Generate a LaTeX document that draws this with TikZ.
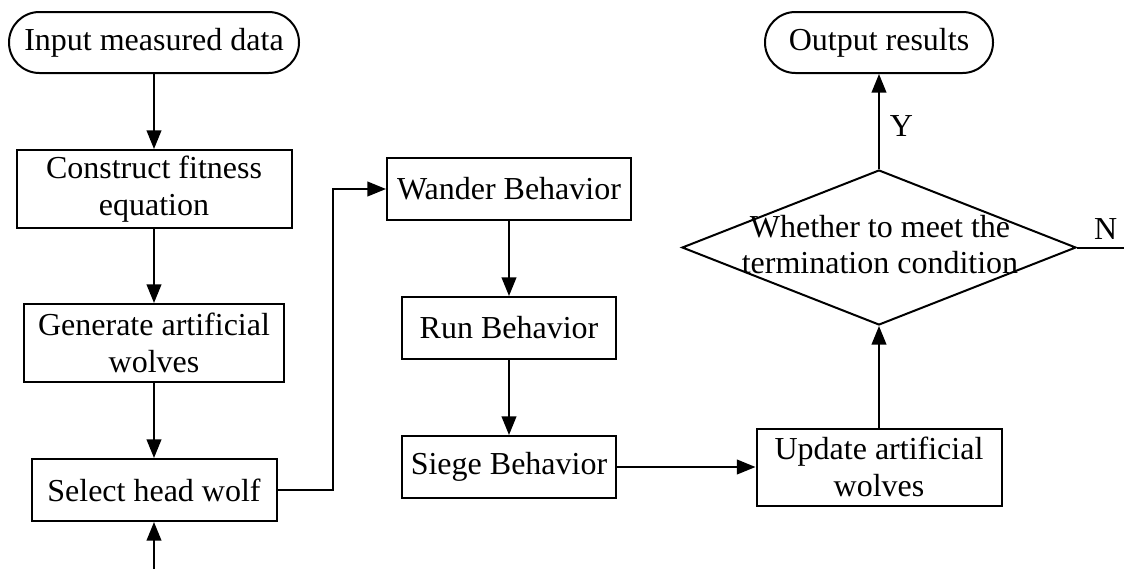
\documentclass[tikz,border=0pt]{standalone}
\usepackage{fontspec}
\setmainfont{Liberation Serif}
\usetikzlibrary{shapes.geometric,arrows.meta}
\begin{document}
\begin{tikzpicture}[x=0.75pt,y=-0.75pt,
  every node/.style={font=\fontsize{24}{28}\selectfont, text=black},
  box/.style={draw=black, line width=1.5pt, fill=white, align=center, inner sep=0pt},
  term/.style={box, rounded corners=22.8pt},
  conn/.style={line width=1.5pt, draw=black},
  arr/.style={conn, -{Triangle[length=14pt,width=11pt]}}
]
\useasboundingbox (0,0) rectangle (1124,568);
\fill[white] (0,0) rectangle (1124,568);

\node[term, minimum width=217.5pt, minimum height=45.75pt] (in) at (154,42.5) {Input measured data};
\node[box, minimum width=206.25pt, minimum height=58.5pt] (con) at (154,189) {Construct fitness\\equation};
\node[box, minimum width=195pt, minimum height=58.5pt] (gen) at (154,343) {Generate artificial\\wolves};
\node[box, minimum width=183.75pt, minimum height=46.5pt] (sel) at (154,490) {Select head wolf};

\node[box, minimum width=183pt, minimum height=46.5pt] (wan) at (509,189) {Wander Behavior};
\node[box, minimum width=160.5pt, minimum height=46.5pt] (run) at (509,328) {Run Behavior};
\node[box, minimum width=160.5pt, minimum height=46.5pt] (sie) at (509,467) {Siege Behavior};

\node[box, minimum width=183.75pt, minimum height=57.75pt] (upd) at (879,467) {Update artificial\\wolves};

\node[diamond, draw=black, line width=1.5pt, fill=white, minimum width=295.5pt, minimum height=116.25pt, inner sep=0pt] (dec) at (879,247.5) {};
\node[align=center, font=\fontsize{24}{27}\selectfont] (dectext) at (880,245) {Whether to meet the\\termination condition};

\node[term, minimum width=171pt, minimum height=45.75pt] (out) at (879,42.5) {Output results};

\coordinate (elb) at (333,0);
\coordinate (loopA) at (1132,247.5);
\coordinate (loopB) at (1132,569.5);
\coordinate (loopC) at (154,569.5);

\draw[arr] (in) -- (con);
\draw[arr] (con) -- (gen);
\draw[arr] (gen) -- (sel);
\draw[arr] (sel.east) -- (sel.east -| elb) -- (elb |- wan.west) -- (wan.west);
\draw[arr] (wan) -- (run);
\draw[arr] (run) -- (sie);
\draw[arr] (sie.east) -- (upd.west);
\draw[arr] (upd.north) -- (dec.south);
\draw[arr] (dec.north) -- node[right, pos=0.45, xshift=4pt] (ylab) {Y} (out.south);
\draw[arr] (dec.east) -- node[above, pos=0.52, yshift=2pt] (nlab) {N} (loopA) -- (loopB) -- (loopC) -- (sel.south);
\end{tikzpicture}
\end{document}
